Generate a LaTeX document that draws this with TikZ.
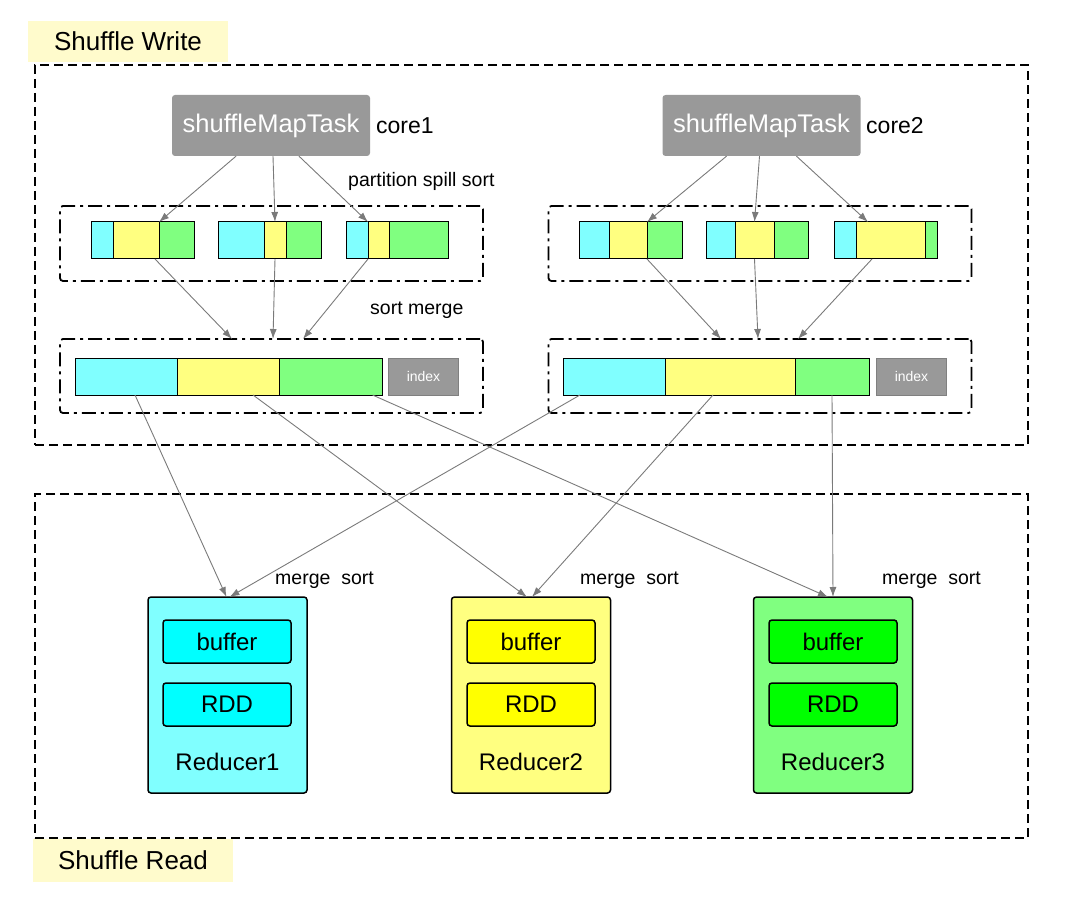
\documentclass[tikz,border=0pt]{standalone}
\usepackage{fontspec}
\setmainfont{Liberation Sans}
\usepackage{xcolor}
\usetikzlibrary{positioning, arrows.meta}
\definecolor{cyanseg}{HTML}{80FFFF}
\definecolor{yellowseg}{HTML}{FFFF80}
\definecolor{greenseg}{HTML}{80FF80}
\definecolor{cyanbox}{HTML}{00FFFF}
\definecolor{yellowbox}{HTML}{FFFF00}
\definecolor{greenbox}{HTML}{00FF00}
\definecolor{taskgray}{HTML}{999999}
\definecolor{notebg}{HTML}{FFFBCC}
\definecolor{flowgray}{HTML}{7A7A7A}

\begin{document}
\begin{tikzpicture}[x=1pt,y=-1pt,
    seg/.style={draw=black, line width=1pt, inner sep=0pt, outer sep=0pt,
                minimum height=37pt},
    task/.style={fill=taskgray, rounded corners=3pt, inner sep=0pt,
                 minimum width=198pt, minimum height=61pt, text=white,
                 font=\fontsize{25.5}{28}\selectfont},
    idx/.style={draw=gray, fill=taskgray, line width=1pt, inner sep=0pt,
                minimum width=70pt, minimum height=37pt, text=white,
                font=\fontsize{14}{16}\selectfont},
    frame/.style={draw=black, dashed, line width=1.6pt,
                  dash pattern=on 9pt off 5pt, inner sep=0pt, outer sep=0pt},
    stage/.style={draw=black, line width=1.8pt, rounded corners=3pt,
                  dash pattern=on 14pt off 5pt on 3pt off 5pt,
                  inner sep=0pt, outer sep=0pt, minimum width=423pt},
    note/.style={fill=notebg, inner sep=0pt, minimum width=200pt,
                 font=\fontsize{26}{30}\selectfont},
    small/.style={font=\fontsize{19.5}{23}\selectfont, inner sep=0pt, anchor=west},
    reducer/.style={draw=black, line width=1.5pt, rounded corners=3pt,
                    inner sep=0pt, outer sep=0pt,
                    minimum width=159pt, minimum height=196pt},
    inbox/.style={draw=black, line width=1.5pt, rounded corners=3pt,
                  inner sep=0pt, minimum width=128pt, minimum height=43pt,
                  font=\fontsize{24}{28}\selectfont},
    flow/.style={every edge/.style={draw=flowgray, line width=0.9pt,
                 -{Latex[length=10pt,width=7pt]}}}]
    \useasboundingbox (0,0) rectangle (1073,909);

    % Frames and titles
    \node[frame, minimum width=993pt, minimum height=380pt] (wframe) at (531.5,255) {};
    \node[frame, minimum width=993pt, minimum height=344pt] (rframe) at (531.5,666) {};
    \node[note, minimum height=41pt] (wnote) at (128,41.5) {Shuffle Write};
    \node[note, minimum height=43pt] (rnote) at (133,860.5) {Shuffle Read};

    % Map tasks
    \node[task] (t1) at (271,125.5) {shuffleMapTask};
    \node[task] (t2) at (761.5,125.5) {shuffleMapTask};
    \node[font=\fontsize{23}{26}\selectfont, inner sep=0pt, anchor=west] (c1) at (376,126) {core1};
    \node[font=\fontsize{23}{26}\selectfont, inner sep=0pt, anchor=west] (c2) at (866,126) {core2};

    % Stage boxes
    \node[stage, minimum height=75pt] (s1) at (271.5,243.5) {};
    \node[stage, minimum height=75pt] (s2) at (760,243.5) {};
    \node[stage, minimum height=74pt] (m1) at (271.5,376) {};
    \node[stage, minimum height=74pt] (m2) at (760,376) {};
    \node[small] (spill) at (348,181) {partition spill sort};
    \node[small] (smerge) at (370,310) {sort merge};

    % Spill files, core1
    \node[seg, fill=cyanseg, minimum width=22pt, anchor=west] (a1c) at (91,240.5) {};
    \node[seg, fill=yellowseg, minimum width=46pt, right=0pt of a1c] (a1y) {};
    \node[seg, fill=greenseg, minimum width=35pt, right=0pt of a1y] (a1g) {};
    \node[seg, fill=cyanseg, minimum width=46pt, anchor=west] (a2c) at (218,240.5) {};
    \node[seg, fill=yellowseg, minimum width=22pt, right=0pt of a2c] (a2y) {};
    \node[seg, fill=greenseg, minimum width=35pt, right=0pt of a2y] (a2g) {};
    \node[seg, fill=cyanseg, minimum width=22pt, anchor=west] (a3c) at (346,240.5) {};
    \node[seg, fill=yellowseg, minimum width=21pt, right=0pt of a3c] (a3y) {};
    \node[seg, fill=greenseg, minimum width=59pt, right=0pt of a3y] (a3g) {};

    % Spill files, core2
    \node[seg, fill=cyanseg, minimum width=30pt, anchor=west] (b1c) at (579,240.5) {};
    \node[seg, fill=yellowseg, minimum width=38pt, right=0pt of b1c] (b1y) {};
    \node[seg, fill=greenseg, minimum width=35pt, right=0pt of b1y] (b1g) {};
    \node[seg, fill=cyanseg, minimum width=29pt, anchor=west] (b2c) at (706,240.5) {};
    \node[seg, fill=yellowseg, minimum width=39pt, right=0pt of b2c] (b2y) {};
    \node[seg, fill=greenseg, minimum width=34pt, right=0pt of b2y] (b2g) {};
    \node[seg, fill=cyanseg, minimum width=22pt, anchor=west] (b3c) at (834,240.5) {};
    \node[seg, fill=yellowseg, minimum width=69pt, right=0pt of b3c] (b3y) {};
    \node[seg, fill=greenseg, minimum width=12pt, right=0pt of b3y] (b3g) {};

    % Merged output files
    \node[seg, fill=cyanseg, minimum width=102pt, anchor=west] (o1c) at (75,376.5) {};
    \node[seg, fill=yellowseg, minimum width=102pt, right=0pt of o1c] (o1y) {};
    \node[seg, fill=greenseg, minimum width=103pt, right=0pt of o1y] (o1g) {};
    \node[idx, anchor=west] (i1) at (388,376.5) {index};
    \node[seg, fill=cyanseg, minimum width=102pt, anchor=west] (o2c) at (563,376.5) {};
    \node[seg, fill=yellowseg, minimum width=130pt, right=0pt of o2c] (o2y) {};
    \node[seg, fill=greenseg, minimum width=74pt, right=0pt of o2y] (o2g) {};
    \node[idx, anchor=west] (i2) at (876,376.5) {index};

    % Reducers
    \node[reducer, fill=cyanseg] (r1) at (227.5,695) {};
    \node[inbox, fill=cyanbox] (r1b) at (227,641.5) {buffer};
    \node[inbox, fill=cyanbox] (r1d) at (227,704.5) {RDD};
    \node[font=\fontsize{24}{28}\selectfont, inner sep=0pt] (r1l) at (227.5,762) {Reducer1};
    \node[reducer, fill=yellowseg] (r2) at (531,695) {};
    \node[inbox, fill=yellowbox] (r2b) at (531,641.5) {buffer};
    \node[inbox, fill=yellowbox] (r2d) at (531,704.5) {RDD};
    \node[font=\fontsize{24}{28}\selectfont, inner sep=0pt] (r2l) at (531,762) {Reducer2};
    \node[reducer, fill=greenseg] (r3) at (833,695) {};
    \node[inbox, fill=greenbox] (r3b) at (833,641.5) {buffer};
    \node[inbox, fill=greenbox] (r3d) at (833,704.5) {RDD};
    \node[font=\fontsize{24}{28}\selectfont, inner sep=0pt] (r3l) at (833,762) {Reducer3};
    \node[small] (ms1) at (275,580) {merge\ \ sort};
    \node[small] (ms2) at (580,580) {merge\ \ sort};
    \node[small] (ms3) at (882,580) {merge\ \ sort};

    % Connectors
    \path[flow]
        ([xshift=-35pt]t1.south) edge (a1y.north east)
        ([xshift=2pt]t1.south) edge (a2y.north)
        ([xshift=28pt]t1.south) edge (a3c.north east)
        ([xshift=-35pt]t2.south) edge (b1y.north east)
        ([xshift=-2pt]t2.south) edge (b2y.north)
        ([xshift=35pt]t2.south) edge ([xshift=12pt]b3y.north west)
        ([xshift=-4pt]a1y.south east) edge ([xshift=-39.5pt]m1.north)
        (a2y.south) edge ([xshift=1.5pt]m1.north)
        (a3c.south east) edge ([xshift=31.5pt]m1.north)
        (b1y.south east) edge ([xshift=-39pt]m2.north)
        (b2y.south) edge ([xshift=-2pt]m2.north)
        ([xshift=16pt]b3y.south west) edge ([xshift=38pt]m2.north)
        ([xshift=9pt]o1c.south) edge ([xshift=-1pt]r1.north)
        ([xshift=-34pt]o2c.south) edge ([xshift=2pt]r1.north)
        ([xshift=25pt]o1y.south) edge ([xshift=-4pt]r2.north)
        ([xshift=-17pt]o2y.south) edge ([xshift=1pt]r2.north)
        ([xshift=42pt]o1g.south) edge ([xshift=-5pt]r3.north)
        (o2g.south) edge (r3.north);
\end{tikzpicture}
\end{document}
